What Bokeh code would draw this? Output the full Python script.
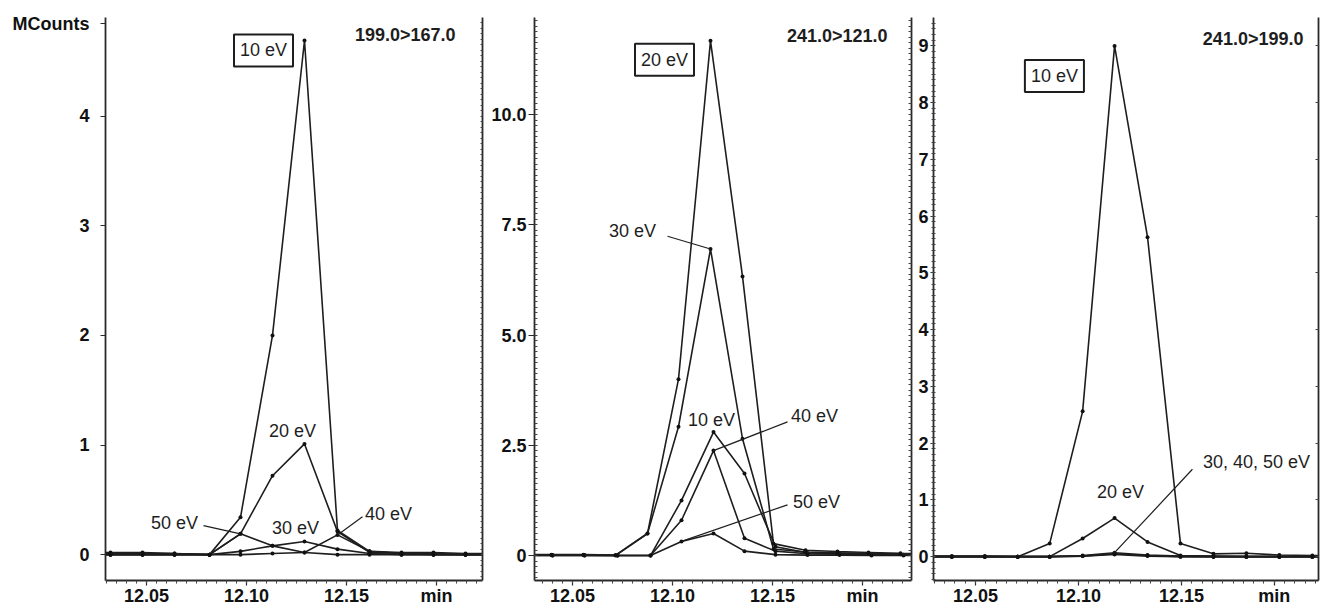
from bokeh.plotting import figure
from bokeh.layouts import row
from bokeh.models import Label, FixedTicker, LinearAxis, Range1d
from bokeh.embed import file_html
from bokeh.resources import INLINE
import numpy as np

FONT = "Liberation Sans"
INK = "#1e1e1e"

# ---------------- data (time in min, signal in MCounts) ----------------
# Panel 1: 199.0>167.0
P1_TIME = [12.016, 12.032, 12.048, 12.064, 12.0815, 12.097, 12.113, 12.129, 12.1455,
           12.1615, 12.1775, 12.1935, 12.2095, 12.2255]
P1_10EV = [0.02, 0.02, 0.02, 0.01, 0.00, 0.34, 2.00, 4.69, 0.22, 0.03, 0.02, 0.02, 0.01, 0.01]
P1_20EV = [0.01, 0.01, 0.01, 0.01, 0.00, 0.19, 0.72, 1.01, 0.21, 0.02, 0.01, 0.01, 0.00, 0.00]
P1_30EV = [0.00, 0.00, 0.00, 0.00, 0.00, 0.03, 0.08, 0.12, 0.05, 0.01, 0.00, 0.00, 0.00, 0.00]
P1_40EV = [0.00, 0.00, 0.00, 0.00, 0.00, 0.00, 0.01, 0.02, 0.18, 0.03, 0.01, 0.00, 0.00, 0.00]
P1_50EV = [0.00, 0.00, 0.00, 0.00, 0.00, 0.19, 0.08, 0.02, 0.00, 0.00, 0.00, 0.00, 0.00, 0.00]

# Panel 2: 241.0>121.0
P2_TIME_A = [12.0235, 12.0395, 12.0555, 12.0715, 12.0875, 12.103, 12.119, 12.135, 12.1505,
             12.1665, 12.1825, 12.198, 12.214, 12.2295]
P2_TIME_B = [12.024, 12.04, 12.056, 12.0725, 12.089, 12.1045, 12.1205, 12.136, 12.1515,
             12.1675, 12.1835, 12.1995, 12.2155, 12.2315]
P2_20EV = [0.02, 0.02, 0.02, 0.01, 0.50, 4.00, 11.67, 6.33, 0.27, 0.12, 0.09, 0.07, 0.05, 0.04]
P2_30EV = [0.01, 0.01, 0.01, 0.00, 0.50, 2.92, 6.95, 2.65, 0.15, 0.08, 0.06, 0.05, 0.03, 0.03]
P2_10EV = [0.01, 0.01, 0.01, 0.00, 0.00, 1.25, 2.80, 1.86, 0.20, 0.06, 0.05, 0.03, 0.02, 0.02]
P2_40EV = [0.00, 0.00, 0.00, 0.00, 0.00, 0.80, 2.38, 0.39, 0.10, 0.04, 0.03, 0.02, 0.01, 0.01]
P2_50EV = [0.00, 0.00, 0.00, 0.00, 0.00, 0.32, 0.50, 0.10, 0.02, 0.01, 0.01, 0.00, 0.00, 0.00]

# Panel 3: 241.0>199.0
P3_TIME = [12.0225, 12.0385, 12.0545, 12.0705, 12.086, 12.102, 12.1175, 12.1335, 12.1495,
           12.1655, 12.1815, 12.1975, 12.2135, 12.2295]
P3_10EV = [0.01, 0.01, 0.01, 0.00, 0.23, 2.56, 9.00, 5.63, 0.23, 0.05, 0.06, 0.03, 0.02, 0.02]
P3_20EV = [0.00, 0.00, 0.00, 0.00, 0.00, 0.32, 0.68, 0.26, 0.02, 0.01, 0.00, 0.00, 0.00, 0.00]
P3_30EV = [0.00, 0.00, 0.00, 0.00, 0.00, 0.02, 0.07, 0.03, 0.01, 0.00, 0.00, 0.00, 0.00, 0.00]
P3_40EV = [0.00, 0.00, 0.00, 0.00, 0.00, 0.01, 0.05, 0.02, 0.00, 0.00, 0.00, 0.00, 0.00, 0.00]
P3_50EV = [0.00, 0.00, 0.00, 0.00, 0.00, 0.01, 0.04, 0.01, 0.00, 0.00, 0.00, 0.00, 0.00, 0.00]

TITLES = ["199.0>167.0", "241.0>121.0", "241.0>199.0"]
X_TICKS = [12.05, 12.10, 12.15, 12.195]
X_TICK_LABELS = {12.05: "12.05", 12.10: "12.10", 12.15: "12.15", 12.195: "min"}
P1_YTICKS = [0, 1, 2, 3, 4]
UNIT_LABEL = "MCounts"
UNIT_LABEL_Y = 4.845
P2_YTICKS = [0, 2.5, 5.0, 7.5, 10.0]
P2_YLABELS = {0.0: "0", 2.5: "2.5", 5.0: "5.0", 7.5: "7.5", 10.0: "10.0"}
P3_YTICKS = [0, 1, 2, 3, 4, 5, 6, 7, 8, 9]

H = 608


def style_axis(ax, tick_out, standoff, minor_out, minor_in=0):
    ax.axis_line_color = "#2a2a2a"
    ax.axis_line_width = 1.8
    ax.major_tick_line_color = "#2a2a2a"
    ax.major_tick_line_width = 1.2
    ax.major_tick_out = tick_out
    ax.major_tick_in = 0
    ax.minor_tick_line_color = "#444"
    ax.minor_tick_out = minor_out
    ax.minor_tick_in = minor_in
    ax.major_label_standoff = standoff
    ax.major_label_text_font = FONT
    ax.major_label_text_font_style = "bold"
    ax.major_label_text_color = "#111"
    ax.major_label_text_font_size = "18px"


def edge_axis(p, minor, tick_in):
    ra = LinearAxis(ticker=FixedTicker(ticks=[], minor_ticks=minor))
    style_axis(ra, 0, 0, 0, tick_in)
    p.add_layout(ra, "right")


def make_fig(width, xr, yr, bl, br):
    p = figure(width=width, height=H, x_range=Range1d(*xr), y_range=Range1d(*yr),
               output_backend="svg", toolbar_location=None,
               min_border_left=bl, min_border_right=br, min_border_top=17,
               min_border_bottom=26, outline_line_color=None,
               background_fill_color="white", border_fill_color="white")
    p.xgrid.visible = False
    p.ygrid.visible = False
    xa = p.xaxis[0]
    xa.ticker = FixedTicker(ticks=X_TICKS, minor_ticks=list(np.arange(12.02, 12.23, 0.005)))
    xa.major_label_overrides = X_TICK_LABELS
    style_axis(xa, 5, 0, 3)
    return p


def draw_series(p, t, v):
    p.line(t, v, line_color=INK, line_width=1.6)
    p.scatter(t, v, size=4, color="#111", line_color=None)


def text(p, x, y, s, align="center", bold=False, size="18px", box=False):
    kw = {}
    if box:
        kw = dict(border_line_color=INK, border_line_width=2,
                  background_fill_color="white", padding=6)
    p.add_layout(Label(x=x, y=y, text=s, text_font=FONT, text_font_size=size,
                       text_font_style="bold" if bold else "normal",
                       text_color=INK, text_align=align, text_baseline="middle", **kw))


def leader(p, x0, y0, x1, y1):
    p.segment(x0=[x0], y0=[y0], x1=[x1], y1=[y1], line_color=INK, line_width=1.2)


# ---------------- panel 1 ----------------
p1 = make_fig(486, (12.0295, 12.218), (-0.236, 4.9), 105, 4)
ya = p1.yaxis[0]
ya.ticker = FixedTicker(ticks=P1_YTICKS + [UNIT_LABEL_Y], minor_ticks=[])
ya.major_label_overrides = {UNIT_LABEL_Y: UNIT_LABEL}
style_axis(ya, 5, 11, 0)
edge_axis(p1, list(np.arange(-0.2, 4.9, 0.05)), 2)
for s in (P1_50EV, P1_40EV, P1_30EV, P1_20EV, P1_10EV):
    draw_series(p1, P1_TIME, s)
leader(p1, 12.0785, 0.264, P1_TIME[5], P1_50EV[5])
leader(p1, 12.158, 0.345, P1_TIME[8], P1_40EV[8])
text(p1, 12.1085, 4.6, "10 eV", box=True)
text(p1, 12.123, 1.13, "20 eV")
text(p1, 12.064, 0.29, "50 eV")
text(p1, 12.1245, 0.245, "30 eV")
text(p1, 12.171, 0.37, "40 eV")
text(p1, 12.2045, 4.74, TITLES[0], align="right", bold=True)

# ---------------- panel 2 ----------------
p2 = make_fig(427, (12.031, 12.2195), (-0.566, 12.2), 48, 2)
ya = p2.yaxis[0]
ya.ticker = FixedTicker(ticks=P2_YTICKS, minor_ticks=list(np.arange(-0.5, 12.2, 0.125)))
ya.major_label_overrides = P2_YLABELS
style_axis(ya, 6, 2, 0, 3)
edge_axis(p2, list(np.arange(-0.5, 12.2, 0.125)), 3)
for t, s in ((P2_TIME_B, P2_50EV), (P2_TIME_B, P2_40EV), (P2_TIME_B, P2_10EV),
             (P2_TIME_A, P2_30EV), (P2_TIME_A, P2_20EV)):
    draw_series(p2, t, s)
leader(p2, 12.0975, 7.24, P2_TIME_A[6], P2_30EV[6])
leader(p2, 12.1575, 3.03, P2_TIME_B[6], P2_40EV[6])
leader(p2, 12.1575, 1.15, P2_TIME_B[5], P2_50EV[5])
text(p2, 12.096, 11.24, "20 eV", box=True)
text(p2, 12.08, 7.35, "30 eV")
text(p2, 12.1195, 3.08, "10 eV")
text(p2, 12.171, 3.17, "40 eV")
text(p2, 12.172, 1.22, "50 eV")
text(p2, 12.2075, 11.79, TITLES[1], align="right", bold=True)

# ---------------- panel 3 ----------------
p3 = make_fig(407, (12.0296, 12.2165), (-0.42, 9.5), 20, 2)
ya = p3.yaxis[0]
ya.ticker = FixedTicker(ticks=P3_YTICKS, minor_ticks=list(np.arange(-0.4, 9.5, 0.1)))
style_axis(ya, 3, 2, 2, 2)
edge_axis(p3, list(np.arange(0, 9.5, 1.0)), 3)
for s in (P3_50EV, P3_40EV, P3_30EV, P3_20EV, P3_10EV):
    draw_series(p3, P3_TIME, s)
leader(p3, 12.1553, 1.54, P3_TIME[6], P3_30EV[6])
text(p3, 12.0883, 8.47, "10 eV", box=True)
text(p3, 12.1204, 1.14, "20 eV")
text(p3, 12.1864, 1.67, "30, 40, 50 eV")
text(p3, 12.2092, 9.12, TITLES[2], align="right", bold=True)

layout = row(p1, p2, p3)
open("out.html", "w").write(file_html(layout, INLINE))
